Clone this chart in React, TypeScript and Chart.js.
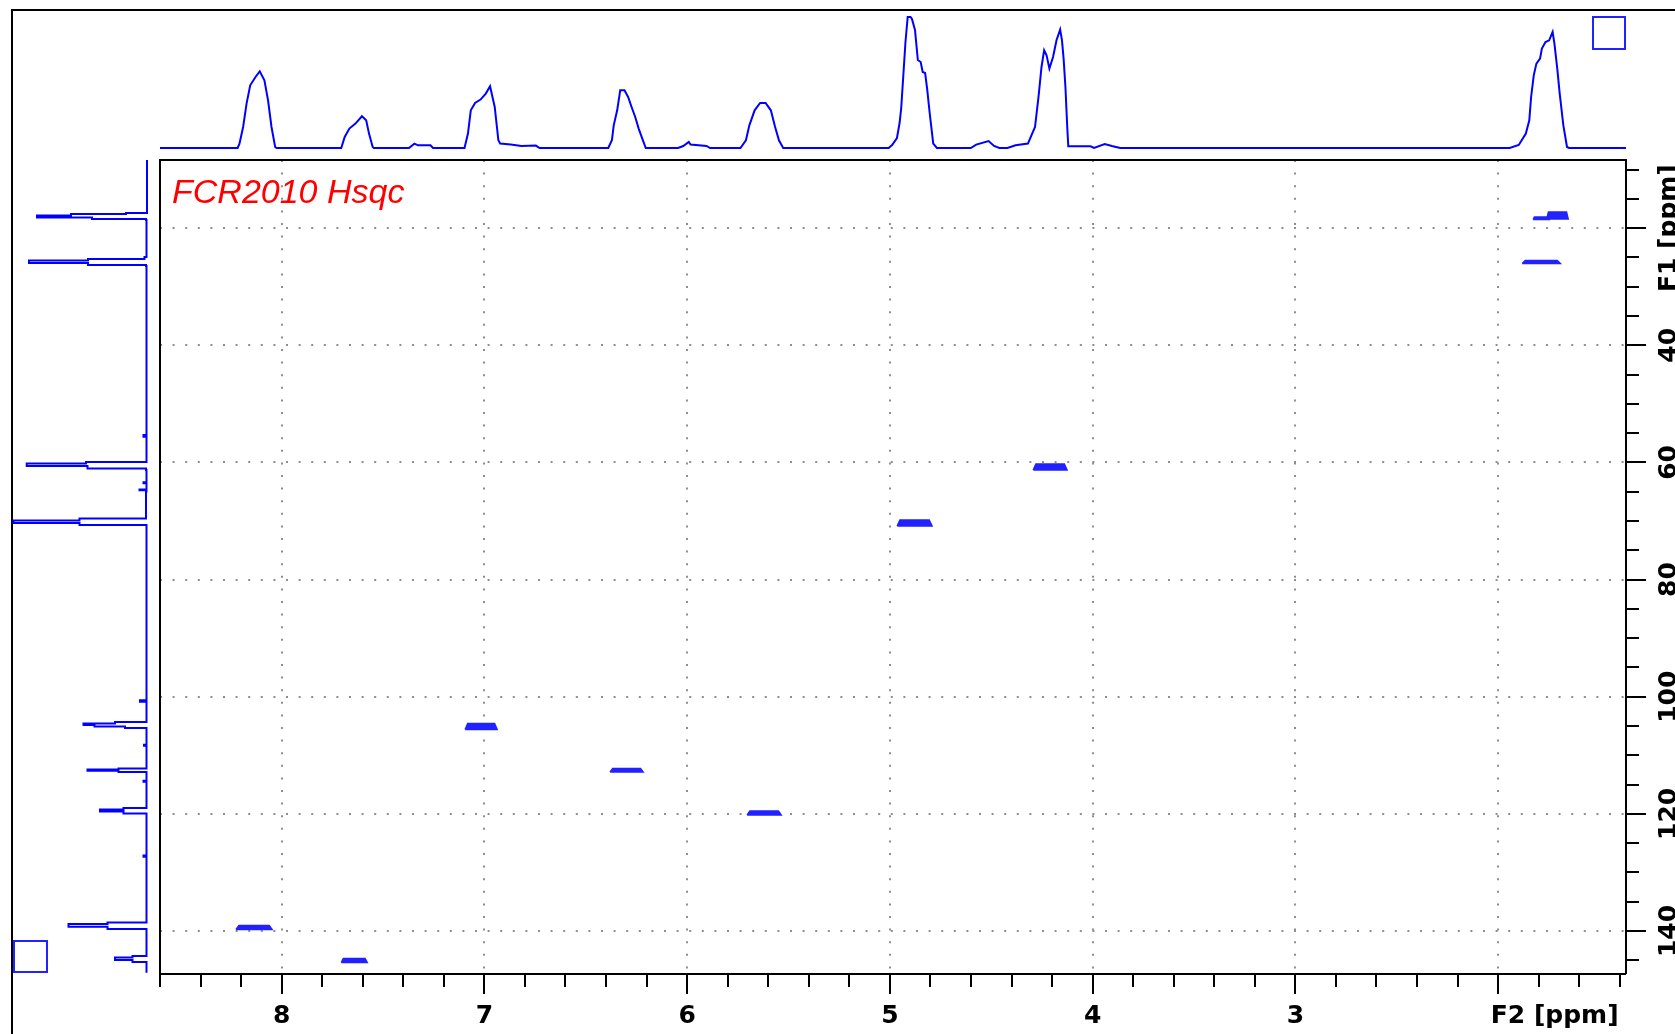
import React, { useEffect, useRef } from "react";
import { Chart, registerables } from "chart.js";

Chart.register(...registerables);

const PAGE_W = 1675;
const PAGE_H = 1034;

// ---- axis ranges (ppm) ----
const F2_MIN = 1.369;
const F2_MAX = 8.6;
const F1_MIN = 8.36;
const F1_MAX = 147.34;

// ---- F2 (1H) projection on top ----
const f2ProjPpm = [
  8.6,
  8.217, 8.208, 8.19, 8.173, 8.155, 8.129, 8.108, 8.085, 8.067, 8.05, 8.032, 8.025,
  7.706, 7.689, 7.666, 7.636, 7.604, 7.583, 7.569, 7.551, 7.545,
  7.372, 7.345, 7.327, 7.266, 7.253,
  7.098, 7.081, 7.067, 7.046, 7.019, 6.993, 6.972, 6.949, 6.931, 6.922, 6.87, 6.817, 6.746, 6.728,
  6.389, 6.371, 6.362, 6.345, 6.33, 6.309, 6.291, 6.274, 6.256, 6.239, 6.218, 6.204,
  6.045, 6.019, 5.992, 5.983, 5.904, 5.887,
  5.737, 5.71, 5.693, 5.667, 5.64, 5.613, 5.587, 5.566, 5.547, 5.526,
  5.006, 4.989, 4.965, 4.952, 4.944, 4.935, 4.923, 4.912, 4.898, 4.891, 4.876, 4.862, 4.848, 4.838, 4.826, 4.816, 4.803, 4.786, 4.768,
  4.601, 4.574, 4.513, 4.486, 4.46,
  4.42, 4.38, 4.319, 4.284, 4.266, 4.252, 4.239, 4.227, 4.213, 4.195, 4.178, 4.16, 4.151, 4.143, 4.134, 4.125, 4.12, 4.01, 3.993, 3.94, 3.905, 3.864,
  1.943, 1.898, 1.863, 1.846, 1.837, 1.824, 1.811, 1.793, 1.784, 1.766, 1.748, 1.731, 1.722, 1.708, 1.696, 1.678, 1.66, 1.65,
  1.369,
];
const f2ProjInt = [
  0,
  0, 4.4, 21, 44.4, 62.7, 71, 76.7, 67.7, 47.7, 21, 1, 0,
  0, 11, 19.4, 24.4, 31.7, 27.7, 14.4, 1, 0,
  0, 4.4, 2.7, 2.7, 0,
  0, 14.4, 37.7, 45, 48.4, 54.4, 61.7, 41, 7.7, 4.4, 3.4, 2, 2.4, 0,
  0, 7.7, 22.7, 37.7, 57.7, 57.7, 51, 41, 31, 19.4, 7.7, 0,
  0, 2, 6, 3.4, 2, 0,
  0, 7.7, 22.7, 37.7, 45, 45, 37.7, 21, 7.7, 0,
  0, 3, 10, 25, 40, 68, 106, 131, 131, 129, 118, 88, 86, 76, 75, 59, 34, 4.4, 0,
  0, 3.4, 7, 2, 0,
  0, 2.7, 4.4, 21, 52.7, 81, 97.7, 92.7, 79.4, 91, 107.7, 118.4, 107.7, 89.4, 61, 21, 1.7, 1.7, 0, 4, 2, 0,
  0, 3, 14.4, 27.7, 51, 72.7, 84.4, 89.4, 99.4, 106, 107.7, 116, 104.4, 79.4, 54.4, 22.7, 1, 0,
  0,
];

// ---- F1 (13C) projection on the left ----
const f1ProjPpm = [
  8.36,
  17.41, 17.58, 17.84, 18.18, 18.44, 18.61,
  24.92, 25.27, 25.52, 25.95, 26.29, 26.46,
  55.3, 55.6, 55.9,
  59.92, 60.18, 60.61, 61.03, 61.29,
  63.4, 63.56, 63.8, 64.6, 64.75, 64.95,
  69.57, 69.91, 70.34, 70.68, 70.94,
  100.6, 100.85, 101.1,
  104.32, 104.57, 104.83, 105.08, 105.34, 105.51,
  108.2, 108.36, 108.6,
  112.26, 112.43, 112.63, 112.85, 113.11,
  114.35, 114.51, 114.7,
  119.0, 119.26, 119.6, 119.94, 120.28,
  127.1, 127.32, 127.55,
  138.55, 138.81, 139.27, 139.66, 139.92,
  144.27, 144.53, 144.95, 145.3, 145.55,
  147.12,
];
const f1ProjInt = [
  0,
  0.5, 21.5, 76.5, 110.5, 55.5, 1.5,
  1, 3, 59.5, 118.5, 59.5, 1.5,
  1, 4, 1,
  1, 61.5, 120.8, 60, 1.5,
  1, 4, 1, 1, 8, 1,
  1.5, 68, 134, 68, 1,
  1, 7.5, 1,
  1, 32.5, 64, 53, 22.5, 1,
  1, 3.5, 1,
  1, 29, 60, 29, 1,
  1, 4, 1,
  1, 24, 47.5, 24, 1,
  1, 4, 1,
  1, 40, 79, 40, 1,
  1, 15, 32.5, 15, 1,
  1,
];

// ---- 2D cross peaks (contour extents, ppm) ----
const crossF2Left = [1.827, 1.76, 1.881, 4.293, 4.964, 7.095, 6.38, 5.704, 8.225, 7.706];
const crossF2Right = [1.748, 1.654, 1.693, 4.126, 4.792, 6.937, 6.217, 5.536, 8.047, 7.578];
const crossF1Low = [18.09, 17.24, 25.52, 60.27, 69.83, 104.57, 112.26, 119.51, 139.06, 144.69];
const crossF1High = [18.52, 18.44, 26.03, 61.29, 70.85, 105.6, 112.85, 120.19, 139.74, 145.38];

// ---- ticks & labels ----
const xTickValues = [
  8.6, 8.4, 8.2, 8, 7.8, 7.6, 7.4, 7.2, 7, 6.8, 6.6, 6.4, 6.2, 6, 5.8, 5.6, 5.4, 5.2, 5,
  4.8, 4.6, 4.4, 4.2, 4, 3.8, 3.6, 3.4, 3.2, 3, 2.8, 2.6, 2.4, 2.2, 2, 1.8, 1.6, 1.4,
];
const xMajorTicks = [8, 7, 6, 5, 4, 3, 2];
const xMajorLabels = ["8", "7", "6", "5", "4", "3", "F2 [ppm]"];
const yTickValues = [
  10, 15, 20, 25, 30, 35, 40, 45, 50, 55, 60, 65, 70, 75, 80, 85, 90, 95, 100,
  105, 110, 115, 120, 125, 130, 135, 140, 145,
];
const yMajorTicks = [20, 40, 60, 80, 100, 120, 140];
const yMajorLabels = ["F1 [ppm]", "40", "60", "80", "100", "120", "140"];
const titleText = "FCR2010 Hsqc";

const BLUE = "#0000ff";
const PEAK_BLUE = "#2222ff";
const GRID = "#8e8e8e";
const LABEL_FONT = { family: "DejaVu Sans", weight: "bold" as const, size: 25 };

const near = (list: number[], v: number) => list.findIndex((m) => Math.abs(m - v) < 1e-6);

export default function App() {
  const mainRef = useRef<HTMLCanvasElement>(null);
  const topRef = useRef<HTMLCanvasElement>(null);
  const leftRef = useRef<HTMLCanvasElement>(null);

  useEffect(() => {
    const charts: Chart[] = [];

    // ---------- main 2D plot ----------
    const peakSets = crossF2Left.map((L, i) => {
      const R = crossF2Right[i];
      const lo = crossF1Low[i];
      const hi = crossF1High[i];
      const d = 0.08 * (L - R);
      return {
        data: [
          { x: L, y: hi },
          { x: L - d, y: lo },
          { x: R + d, y: lo },
          { x: R, y: hi },
          { x: L, y: hi },
        ],
        showLine: true,
        borderColor: PEAK_BLUE,
        backgroundColor: PEAK_BLUE,
        borderWidth: 1.5,
        pointRadius: 0,
        fill: "shape" as any,
        tension: 0,
      };
    });

    const decorPlugin = {
      id: "decor",
      afterDraw(chart: any) {
        const { ctx, chartArea: a, scales } = chart;
        ctx.save();
        ctx.strokeStyle = "#000";
        ctx.lineWidth = 2;
        ctx.setLineDash([]);
        ctx.beginPath();
        ctx.moveTo(a.left, a.bottom);
        ctx.lineTo(a.left, a.top);
        ctx.lineTo(a.right, a.top);
        ctx.stroke();
        // outer frame
        ctx.beginPath();
        ctx.moveTo(12, PAGE_H);
        ctx.lineTo(12, 10);
        ctx.lineTo(PAGE_W, 10);
        ctx.stroke();
        // projection boxes
        ctx.strokeStyle = PEAK_BLUE;
        ctx.strokeRect(1593, 17, 32, 32);
        ctx.strokeRect(14, 941, 33, 31);
        // title
        ctx.fillStyle = "#ff0000";
        ctx.font = 'italic 34px "Liberation Sans"';
        ctx.textAlign = "left";
        ctx.textBaseline = "alphabetic";
        ctx.fillText(titleText, a.left + 12, a.top + 43);
        // rotated F1 labels
        const ys = scales.y;
        ctx.fillStyle = "#000";
        ctx.font = 'bold 25px "DejaVu Sans"';
        ctx.textAlign = "center";
        yMajorTicks.forEach((v, i) => {
          const py = ys.getPixelForValue(v);
          ctx.save();
          ctx.translate(ys.right + 1, py);
          ctx.rotate(-Math.PI / 2);
          ctx.fillText(yMajorLabels[i], 0, 0);
          ctx.restore();
        });
        ctx.restore();
      },
    };

    const gridColor = (list: number[]) => (c: any) =>
      c.tick && near(list, c.tick.value) >= 0 ? GRID : "rgba(0,0,0,0)";
    const gridWidth = (list: number[]) => (c: any) =>
      c.tick && near(list, c.tick.value) >= 0 ? 2 : 0;
    const tickDash = (list: number[]) => (c: any) =>
      c.tick && near(list, c.tick.value) >= 0 ? [] : [12, 100];

    if (mainRef.current) {
      charts.push(
        new Chart(mainRef.current, {
          type: "scatter",
          data: { datasets: peakSets as any },
          plugins: [decorPlugin],
          options: {
            animation: false,
            responsive: false,
            devicePixelRatio: 1,
            events: [],
            layout: { padding: { left: 160, top: 160, right: 0, bottom: 0 } },
            plugins: {
              legend: { display: false },
              tooltip: { enabled: false },
              title: { display: false },
            },
            scales: {
              x: {
                type: "linear",
                position: "bottom",
                reverse: true,
                min: F2_MIN,
                max: F2_MAX,
                afterBuildTicks: (s: any) => {
                  s.ticks = xTickValues.map((v) => ({ value: v }));
                },
                afterFit: (s: any) => {
                  s.height = 60;
                },
                grid: {
                  display: true,
                  drawOnChartArea: true,
                  drawTicks: true,
                  tickLength: 20,
                  color: gridColor(xMajorTicks),
                  lineWidth: gridWidth(xMajorTicks),
                  tickColor: "#000",
                  tickWidth: 2,
                  tickBorderDash: tickDash(xMajorTicks),
                } as any,
                border: { display: true, color: "#000", width: 2, dash: [2, 10.6] },
                ticks: {
                  autoSkip: false,
                  maxRotation: 0,
                  minRotation: 0,
                  padding: 7,
                  color: "#000",
                  font: LABEL_FONT,
                  callback: (v: any) => {
                    const i = near(xMajorTicks, Number(v));
                    if (i < 0) return "";
                    if (i === xMajorTicks.length - 1) return " ".repeat(13) + xMajorLabels[i];
                    return xMajorLabels[i];
                  },
                },
              },
              y: {
                type: "linear",
                position: "right",
                reverse: true,
                min: F1_MIN,
                max: F1_MAX,
                afterBuildTicks: (s: any) => {
                  s.ticks = yTickValues.map((v) => ({ value: v }));
                },
                afterFit: (s: any) => {
                  s.width = 49;
                },
                grid: {
                  display: true,
                  drawOnChartArea: true,
                  drawTicks: true,
                  tickLength: 20,
                  color: gridColor(yMajorTicks),
                  lineWidth: gridWidth(yMajorTicks),
                  tickColor: "#000",
                  tickWidth: 2,
                  tickBorderDash: tickDash(yMajorTicks),
                } as any,
                border: { display: true, color: "#000", width: 2, dash: [2, 10.6] },
                ticks: { display: false },
              },
            },
          } as any,
        })
      );
    }

    // ---------- top F2 projection ----------
    if (topRef.current) {
      charts.push(
        new Chart(topRef.current, {
          type: "scatter",
          data: {
            datasets: [
              {
                data: f2ProjPpm.map((p, i) => ({ x: p, y: f2ProjInt[i] })),
                showLine: true,
                borderColor: BLUE,
                borderWidth: 2,
                pointRadius: 0,
                tension: 0,
                fill: false,
              },
            ],
          },
          options: {
            animation: false,
            responsive: false,
            devicePixelRatio: 1,
            events: [],
            layout: { padding: { left: 160, top: 10, right: 49, bottom: PAGE_H - 160 } },
            plugins: { legend: { display: false }, tooltip: { enabled: false } },
            scales: {
              x: { type: "linear", display: false, reverse: true, min: F2_MIN, max: F2_MAX },
              y: { type: "linear", display: false, min: -12, max: 138 },
            },
          } as any,
        })
      );
    }

    // ---------- left F1 projection ----------
    if (leftRef.current) {
      charts.push(
        new Chart(leftRef.current, {
          type: "scatter",
          data: {
            datasets: [
              {
                data: f1ProjPpm.map((p, i) => ({ x: f1ProjInt[i], y: p })),
                showLine: true,
                stepped: "before",
                borderColor: BLUE,
                borderWidth: 2,
                pointRadius: 0,
                fill: false,
              } as any,
            ],
          },
          options: {
            animation: false,
            responsive: false,
            devicePixelRatio: 1,
            events: [],
            layout: { padding: { left: 0, top: 160, right: PAGE_W - 160, bottom: PAGE_H - 974 } },
            plugins: { legend: { display: false }, tooltip: { enabled: false } },
            scales: {
              x: { type: "linear", display: false, reverse: true, min: -12.5, max: 147.5 },
              y: { type: "linear", display: false, reverse: true, min: F1_MIN, max: F1_MAX },
            },
          } as any,
        })
      );
    }

    return () => {
      charts.forEach((c) => c.destroy());
    };
  }, []);

  const cs: React.CSSProperties = { position: "absolute", left: 0, top: 0 };
  return (
    <div
      style={{
        position: "absolute",
        left: 0,
        top: 0,
        width: PAGE_W,
        height: PAGE_H,
        background: "#fff",
        overflow: "hidden",
      }}
    >
      <canvas ref={mainRef} width={PAGE_W} height={PAGE_H} style={cs} />
      <canvas ref={topRef} width={PAGE_W} height={PAGE_H} style={cs} />
      <canvas ref={leftRef} width={PAGE_W} height={PAGE_H} style={cs} />
    </div>
  );
}
